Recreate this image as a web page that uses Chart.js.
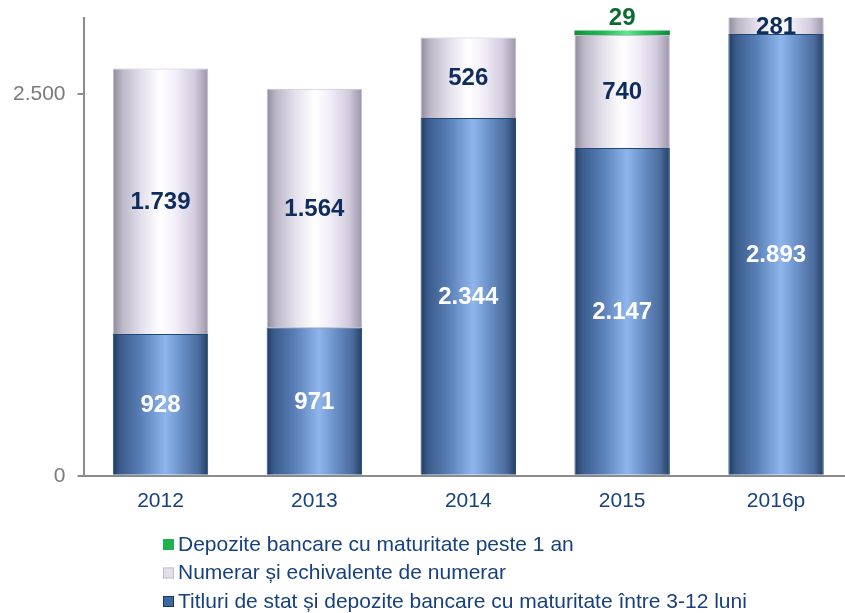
<!DOCTYPE html>
<html>
<head>
<meta charset="utf-8">
<script src="https://cdn.jsdelivr.net/npm/chart.js@4/dist/chart.umd.min.js"></script>
<style>
  html, body { margin: 0; padding: 0; background: #fff; overflow: hidden; }
  canvas { display: block; }
</style>
</head>
<body>
<canvas id="chart" width="853" height="613"></canvas>
<script>
// values in mil. lei, stacked from the bottom up
const years = ["2012", "2013", "2014", "2015", "2016p"];
const titluriValues = [928, 971, 2344, 2147, 2893];
const numerarValues = [1739, 1564, 526, 740, 281];
const depoziteValues = [null, null, null, 29, null];
const yTickValues = [0, 2500];
const yMax = 3000;

const legendLabels = {
  depozite: "Depozite bancare cu maturitate peste 1 an",
  numerar: "Numerar și echivalente de numerar",
  titluri: "Titluri de stat și depozite bancare cu maturitate între 3-12 luni"
};

const FONT = "'Liberation Sans', Arial, sans-serif";
const BAR_PCT = 0.62;

// 1.739 style grouping
const fmt = (v) => String(v).replace(/\B(?=(\d{3})+(?!\d))/g, ".");

// horizontal gradient across each bar so the columns look like cylinders
function cylinder(stops) {
  return (ctx) => {
    const chart = ctx.chart;
    if (!chart.chartArea || ctx.dataIndex === undefined) return stops[3][1];
    const xs = chart.scales.x;
    const half = (xs.width / chart.data.labels.length) * BAR_PCT / 2;
    const cx = xs.getPixelForValue(ctx.dataIndex);
    const g = chart.ctx.createLinearGradient(cx - half, 0, cx + half, 0);
    stops.forEach(([o, c]) => g.addColorStop(o, c));
    return g;
  };
}

const blueStops = [
  [0, "#1f3a5f"], [0.08, "#3b5c8c"], [0.3, "#5a80b8"], [0.55, "#8fb6ec"],
  [0.72, "#6a90c8"], [0.9, "#4a6b9c"], [1, "#233e64"]
];
const lightStops = [
  [0, "#8e8a99"], [0.1, "#bcb7c7"], [0.3, "#e4e0ec"], [0.5, "#ffffff"],
  [0.66, "#f2eef9"], [0.86, "#d2cbdd"], [1, "#9b95a8"]
];
const greenStops = [
  [0, "#0e8a36"], [0.1, "#17a446"], [0.3, "#24b954"], [0.55, "#5fe88c"],
  [0.72, "#2fc45f"], [0.9, "#18a446"], [1, "#0e8a36"]
];

// value labels inside each segment (the thin top segment gets its label above)
const valueLabels = {
  id: "valueLabels",
  afterDatasetsDraw(chart) {
    const { ctx, chartArea } = chart;
    ctx.save();
    ctx.font = "bold 24px " + FONT;
    ctx.textAlign = "center";
    ctx.textBaseline = "middle";
    chart.data.datasets.forEach((ds, di) => {
      const meta = chart.getDatasetMeta(di);
      meta.data.forEach((bar, i) => {
        const v = ds.data[i];
        if (v == null) return;
        const { x, y, base } = bar.getProps(["x", "y", "base"], true);
        const top = Math.max(y, chartArea.top);
        const bottom = Math.min(base, chartArea.bottom);
        const ly = ds.labelAbove ? top - 12 : (top + bottom) / 2 + 1;
        ctx.fillStyle = ds.labelColor;
        ctx.fillText(fmt(v), x, ly);
      });
    });
    ctx.restore();
  }
};

// stacked legend under the plot, top series first
const columnLegend = {
  id: "columnLegend",
  afterDraw(chart, args, opts) {
    const { ctx } = chart;
    ctx.save();
    ctx.font = "21px " + FONT;
    ctx.textBaseline = "middle";
    ctx.textAlign = "left";
    const items = chart.data.datasets.slice().reverse();
    items.forEach((ds, k) => {
      const y = opts.top + k * opts.rowHeight;
      ctx.fillStyle = ds.swatch;
      ctx.fillRect(opts.left, y - 5, 11, 11);
      if (ds.swatchBorder) {
        ctx.strokeStyle = ds.swatchBorder;
        ctx.lineWidth = 1;
        ctx.strokeRect(opts.left + 0.5, y - 4.5, 10, 10);
      }
      ctx.fillStyle = "#17407e";
      ctx.fillText(ds.label, opts.left + 15, y + 1);
    });
    ctx.restore();
  }
};

new Chart(document.getElementById("chart"), {
  type: "bar",
  data: {
    labels: years,
    datasets: [
      {
        label: legendLabels.titluri,
        data: titluriValues,
        backgroundColor: cylinder(blueStops),
        borderColor: "#1d4a74",
        borderWidth: 1,
        labelColor: "#ffffff",
        swatch: "#3d68a3",
        swatchBorder: "#1c375c",
        clip: 0
      },
      {
        label: legendLabels.numerar,
        data: numerarValues,
        backgroundColor: cylinder(lightStops),
        borderColor: "#c6bcd6",
        borderWidth: 1,
        labelColor: "#0e2d5e",
        swatch: "#e4e0ea",
        swatchBorder: "#c3bcd0",
        clip: 0
      },
      {
        label: legendLabels.depozite,
        data: depoziteValues,
        backgroundColor: cylinder(greenStops),
        borderWidth: 0,
        labelColor: "#0d6a30",
        labelAbove: true,
        swatch: "#1fb14e",
        clip: 0
      }
    ]
  },
  options: {
    responsive: false,
    animation: false,
    events: [],
    categoryPercentage: 1,
    barPercentage: BAR_PCT,
    layout: { padding: { top: 0, left: 1, right: 0, bottom: 94 } },
    plugins: {
      legend: { display: false },
      tooltip: { enabled: false },
      columnLegend: { left: 163, top: 544, rowHeight: 28.5 }
    },
    scales: {
      x: {
        stacked: true,
        grid: { display: false },
        border: { display: true, color: "#8c8c8c", width: 2 },
        ticks: { color: "#17427f", font: { family: FONT, size: 21 }, padding: 5 }
      },
      y: {
        stacked: true,
        min: 0,
        max: yMax,
        afterBuildTicks: (scale) => { scale.ticks = yTickValues.map((value) => ({ value })); },
        grid: { drawOnChartArea: false, drawTicks: true, tickLength: 6, color: "#8c8c8c", lineWidth: 2 },
        border: { display: true, color: "#8c8c8c", width: 2 },
        ticks: {
          color: "#7a7a7a",
          font: { family: FONT, size: 21, lineHeight: 0.55 },
          padding: 12,
          callback: (v) => fmt(v)
        }
      }
    }
  },
  plugins: [valueLabels, columnLegend]
});
</script>
</body>
</html>
